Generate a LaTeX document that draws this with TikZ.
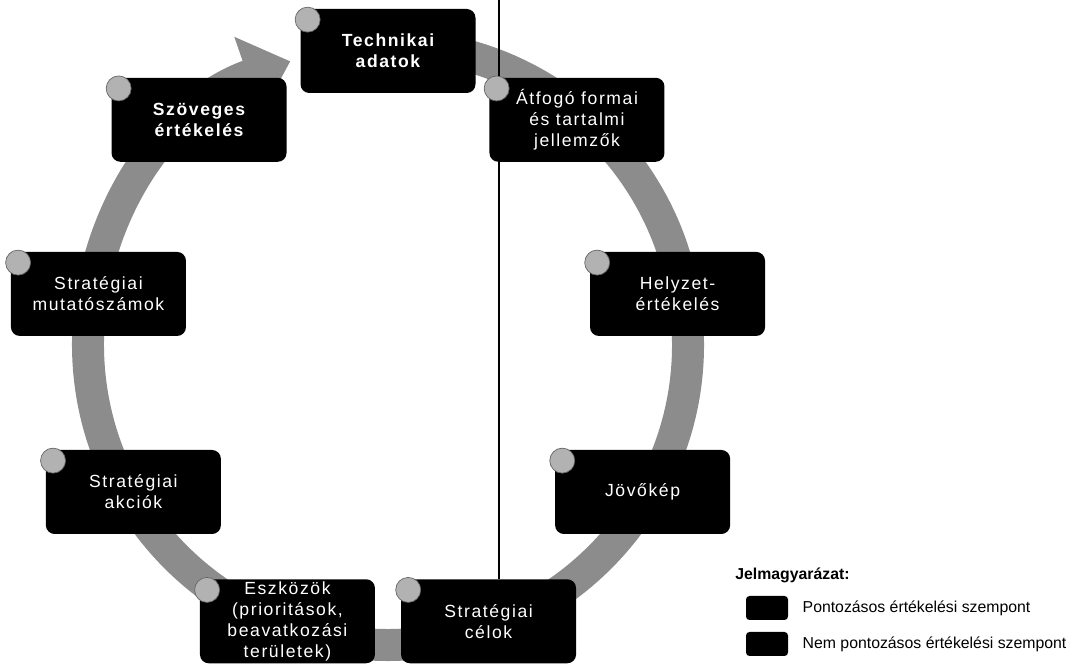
\documentclass[tikz,border=0pt]{standalone}
\usepackage{fontspec}
\setmainfont{Liberation Sans}
\newfontfamily\dobozfont[LetterSpace=9]{Liberation Sans}
\usetikzlibrary{arrows.meta}
\usetikzlibrary{positioning}

\begin{document}
\begin{tikzpicture}[
  lepes/.style={fill=black, rounded corners=5pt, minimum width=3.5cm, minimum height=1.68cm,
    text=white, align=center, inner sep=1pt, font=\dobozfont\fontsize{10}{12}\selectfont},
  kor/.style={draw=black!60, fill=black!30, line width=0.4pt},
  gyuru/.style={draw=black!45, line width=0.64cm},
  jelkep/.style={fill=black, rounded corners=2pt, minimum width=0.84cm, minimum height=0.48cm},
  jeltext/.style={anchor=west, inner sep=0pt, font=\fontsize{9}{11}\selectfont}
]
\useasboundingbox (0,0) rectangle (21.44,13.28);
\coordinate (kozep) at (7.76,6.38);

% a kor
\draw[gyuru, -{Triangle[length=0.9cm, width=1.6cm]}]
  ([shift={(95:6)}]kozep) arc[start angle=95, end angle=-251, radius=6];

% fuggoleges vonal
\coordinate (vonalfent) at (9.98,13.28);
\coordinate (vonallent) at (9.98,1.69);
\draw[line width=0.6pt] (vonalfent) -- (vonallent);

% dobozok
\foreach \szog/\nev/\szoveg in {
  90/tech/{\bfseries Technikai\\\bfseries adatok},
  50/atfogo/{Átfogó formai\\és tartalmi\\jellemzők},
  10/helyzet/{Helyzet-\\értékelés},
  -30/jovokep/{Jövőkép},
  -70/celok/{Stratégiai\\célok},
  -110/eszkozok/{Eszközök\\(prioritások,\\beavatkozási\\területek)},
  -150/akciok/{Stratégiai\\akciók},
  170/mutato/{Stratégiai\\mutatószámok},
  130/szoveges/{\bfseries Szöveges\\\bfseries értékelés}}
{
  \node[lepes] (\nev) at ([shift={(\szog:5.88)}]kozep) {\szoveg};
  \draw[kor] ([shift={(0.15,-0.22)}]\nev.north west) circle (0.25);
}

% jelmagyarazat
\node[jeltext, font=\fontsize{9}{11}\selectfont\bfseries] (jelmagy) at (14.7,1.78) {Jelmagyarázat:};
\node[jelkep] (pont) at (15.34,1.12) {};
\node[jelkep] (nempont) at (15.34,0.40) {};
\node[jeltext, right=0.28cm of pont] (ponttext) {Pontozásos értékelési szempont};
\node[jeltext, right=0.28cm of nempont] (nemponttext) {Nem pontozásos értékelési szempont};

\end{tikzpicture}
\end{document}
